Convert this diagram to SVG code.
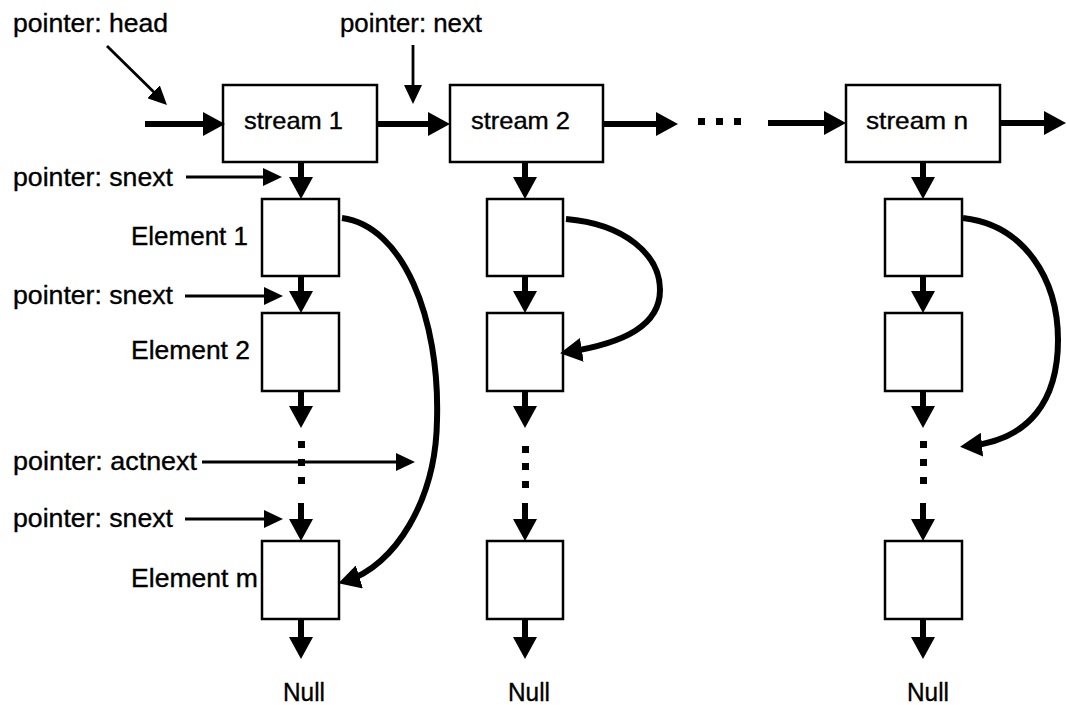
<svg xmlns="http://www.w3.org/2000/svg" width="1067" height="705" viewBox="0 0 1067 705">
  <style>
    .box { fill: #fff; stroke: #000; stroke-width: 2.5; }
    .lbl { font-family: "Liberation Sans", Arial, Helvetica, sans-serif; font-size: 25px; fill: #000; stroke: #000; stroke-width: 0.35; }
    .slbl { font-family: "Liberation Sans", Arial, Helvetica, sans-serif; font-size: 24px; fill: #000; stroke: #000; stroke-width: 0.35; }
    .thick { fill: none; stroke: #000; stroke-width: 6; marker-end: url(#big); }
    .thin { fill: none; stroke: #000; stroke-width: 2.8; marker-end: url(#small); }
    .dot { fill: #000; }
  </style>
  <defs>
    <marker id="big" viewBox="0 0 22 24" markerWidth="22" markerHeight="24" refX="14" refY="12" orient="auto" markerUnits="userSpaceOnUse">
      <path d="M0,0 L22,12 L0,24 z" fill="#000"/>
    </marker>
    <marker id="small" viewBox="0 0 19 18" markerWidth="19" markerHeight="18" refX="13" refY="9" orient="auto" markerUnits="userSpaceOnUse">
      <path d="M0,0 L19,9 L0,18 z" fill="#000"/>
    </marker>
  </defs>
  <rect width="1067" height="705" fill="#fff"/>

  <!-- pointer labels -->
  <g id="pointer-labels">
    <text class="lbl" x="13" y="32" textLength="155" lengthAdjust="spacingAndGlyphs">pointer: head</text>
    <text class="lbl" x="340" y="32" textLength="142" lengthAdjust="spacingAndGlyphs">pointer: next</text>
    <text class="lbl" x="13" y="186" textLength="160" lengthAdjust="spacingAndGlyphs">pointer: snext</text>
    <text class="lbl" x="13" y="304" textLength="160" lengthAdjust="spacingAndGlyphs">pointer: snext</text>
    <text class="lbl" x="13" y="470" textLength="184" lengthAdjust="spacingAndGlyphs">pointer: actnext</text>
    <text class="lbl" x="13" y="527" textLength="160" lengthAdjust="spacingAndGlyphs">pointer: snext</text>
  </g>

  <!-- stream nodes -->
  <g id="stream-1">
    <rect class="box" x="223" y="85" width="154" height="77"/>
    <text class="slbl" x="244" y="129" textLength="99" lengthAdjust="spacingAndGlyphs">stream 1</text>
  </g>
  <g id="stream-2">
    <rect class="box" x="450" y="85" width="153" height="77"/>
    <text class="slbl" x="471" y="129" textLength="99" lengthAdjust="spacingAndGlyphs">stream 2</text>
  </g>
  <g id="stream-n">
    <rect class="box" x="846" y="85" width="154" height="77"/>
    <text class="slbl" x="866" y="129" textLength="102" lengthAdjust="spacingAndGlyphs">stream n</text>
  </g>

  <!-- element nodes, column 1 -->
  <g id="s1-element-1">
    <rect class="box" x="262" y="199" width="77" height="77"/>
    <text class="lbl" x="131" y="245" textLength="117" lengthAdjust="spacingAndGlyphs">Element 1</text>
  </g>
  <g id="s1-element-2">
    <rect class="box" x="262" y="313" width="77" height="78"/>
    <text class="lbl" x="131" y="359" textLength="119" lengthAdjust="spacingAndGlyphs">Element 2</text>
  </g>
  <g id="s1-element-m">
    <rect class="box" x="262" y="541" width="77" height="78"/>
    <text class="lbl" x="131" y="587" textLength="127" lengthAdjust="spacingAndGlyphs">Element m</text>
  </g>
  <g id="s1-null"><text class="lbl" x="283" y="701" textLength="42" lengthAdjust="spacingAndGlyphs">Null</text></g>

  <!-- element nodes, column 2 -->
  <g id="s2-element-1"><rect class="box" x="487" y="199" width="76" height="77"/></g>
  <g id="s2-element-2"><rect class="box" x="487" y="313" width="76" height="78"/></g>
  <g id="s2-element-m"><rect class="box" x="487" y="541" width="76" height="78"/></g>
  <g id="s2-null"><text class="lbl" x="508" y="701" textLength="42" lengthAdjust="spacingAndGlyphs">Null</text></g>

  <!-- element nodes, column n -->
  <g id="sn-element-1"><rect class="box" x="885" y="199" width="77" height="77"/></g>
  <g id="sn-element-2"><rect class="box" x="885" y="313" width="77" height="78"/></g>
  <g id="sn-element-m"><rect class="box" x="885" y="541" width="77" height="78"/></g>
  <g id="sn-null"><text class="lbl" x="907" y="701" textLength="42" lengthAdjust="spacingAndGlyphs">Null</text></g>

  <g id="connectors">
    <!-- stream chain -->
    <path class="thick" d="M145,124 H217"/>
    <path class="thick" d="M377,124 H442"/>
    <path class="thick" d="M603,124 H670"/>
    <rect class="dot" x="698" y="118" width="7" height="7"/>
    <rect class="dot" x="716" y="118" width="7" height="7"/>
    <rect class="dot" x="734" y="118" width="7" height="7"/>
    <path class="thick" d="M768,123 H838"/>
    <path class="thick" d="M1000,123 H1058"/>

    <!-- column 1 snext chain -->
    <path class="thick" d="M301,162 V191"/>
    <path class="thick" d="M301,277 V305"/>
    <path class="thick" d="M301,391 V420"/>
    <rect class="dot" x="298" y="441" width="7" height="7"/>
    <rect class="dot" x="298" y="459" width="7" height="7"/>
    <rect class="dot" x="298" y="477" width="7" height="7"/>
    <path class="thick" d="M301,503 V533"/>
    <path class="thick" d="M301,619 V651"/>

    <!-- column 2 snext chain -->
    <path class="thick" d="M525,162 V191"/>
    <path class="thick" d="M525,277 V305"/>
    <path class="thick" d="M525,391 V420"/>
    <rect class="dot" x="522" y="446" width="7" height="7"/>
    <rect class="dot" x="522" y="463" width="7" height="7"/>
    <rect class="dot" x="522" y="481" width="7" height="7"/>
    <path class="thick" d="M525,503 V533"/>
    <path class="thick" d="M525,619 V651"/>

    <!-- column n snext chain -->
    <path class="thick" d="M923,162 V191"/>
    <path class="thick" d="M923,277 V305"/>
    <path class="thick" d="M923,391 V420"/>
    <rect class="dot" x="920" y="441" width="7" height="7"/>
    <rect class="dot" x="920" y="459" width="7" height="7"/>
    <rect class="dot" x="920" y="477" width="7" height="7"/>
    <path class="thick" d="M923,503 V533"/>
    <path class="thick" d="M923,619 V651"/>

    <!-- actnext links -->
    <path class="thick" d="M342,218 C403,226 440,318 437,420 C436,500 395,566 346,581"/>
    <path class="thick" d="M566,219 C625,224 660,255 660,290 C660,325 625,343 568,352"/>
    <path class="thick" d="M963,218 C1025,225 1058,280 1058,340 C1058,400 1030,440 968,446"/>

    <!-- pointer arrows -->
    <path class="thin" d="M107,46 L162.7,100.8"/>
    <path class="thin" d="M413,45 V98"/>
    <path class="thin" d="M186,177 H276"/>
    <path class="thin" d="M185,296 H277"/>
    <path class="thin" d="M202,462 H409"/>
    <path class="thin" d="M185,519 H277"/>
  </g>
</svg>
